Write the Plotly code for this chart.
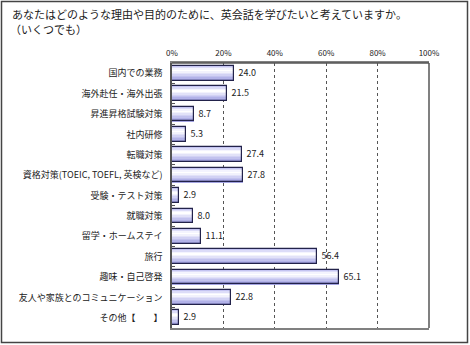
import plotly.graph_objects as go

categories = [
    "国内での業務",
    "海外赴任・海外出張",
    "昇進昇格試験対策",
    "社内研修",
    "転職対策",
    "資格対策(TOEIC, TOEFL, 英検など)",
    "受験・テスト対策",
    "就職対策",
    "留学・ホームステイ",
    "旅行",
    "趣味・自己啓発",
    "友人や家族とのコミュニケーション",
    "その他【　　】",
]
values = [24.0, 21.5, 8.7, 5.3, 27.4, 27.8, 2.9, 8.0, 11.1, 56.4, 65.1, 22.8, 2.9]
tick_vals = [0, 20, 40, 60, 80, 100]
tick_text = ["0%", "20%", "40%", "60%", "80%", "100%"]

title_lines = ["あなたはどのような理由や目的のために、英会話を学びたいと考えていますか。",
               "（いくつでも）"]

FONT = "Noto Sans CJK JP"
W, H = 470, 345
ML, MR, MT, MB = 172, 41, 63, 17

fig = go.Figure()

# gradient stripes (top -> bottom of each bar)
grad = ["#c4c4f2", "#dcdcf8", "#f4f4fe", "#ffffff", "#f2f2fc", "#e2e2f8",
        "#d2d2f4", "#c2c2ee", "#b2b2e8", "#a4a4e2"]
bw = 0.72
n = len(grad)
sw = bw / n
for i, c in enumerate(grad):
    fig.add_trace(go.Bar(
        x=values, y=categories, orientation="h",
        width=sw * 1.15, offset=-bw / 2 + i * sw,
        marker=dict(color=c, line=dict(width=0)),
        hoverinfo="skip", showlegend=False,
    ))

fig.add_trace(go.Bar(
    x=values, y=categories, orientation="h",
    width=bw, offset=-bw / 2,
    marker=dict(color="rgba(0,0,0,0)", line=dict(color="#22224a", width=1.2)),
    text=[f" {v:.1f}" for v in values], textposition="outside",
    textfont=dict(family=FONT, size=9, color="#222"),
    cliponaxis=False, showlegend=False,
))

pw = W - ML - MR
ph = H - MT - MB
def px(x):
    return (x - ML) / pw
def py(y):
    return 1 - (y - MT) / ph

annotations = [
    dict(text=title_lines[0], xref="paper", yref="paper", x=px(10), y=py(14),
         xanchor="left", yanchor="middle", showarrow=False,
         font=dict(family=FONT, size=11, color="#222")),
    dict(text=title_lines[1], xref="paper", yref="paper", x=px(8), y=py(29),
         xanchor="left", yanchor="middle", showarrow=False,
         font=dict(family=FONT, size=11, color="#222")),
]

fig.update_layout(
    width=W, height=H,
    margin=dict(l=ML, r=MR, t=MT, b=MB, pad=0),
    paper_bgcolor="white", plot_bgcolor="white",
    barmode="overlay", bargap=0,
    font=dict(family=FONT, size=9, color="#222"),
    annotations=annotations,
    xaxis=dict(range=[0, 100], side="top", tickvals=tick_vals, ticktext=tick_text,
               showgrid=True, gridcolor="#555", griddash="dot", gridwidth=1,
               showline=True, linecolor="#808080", linewidth=2, mirror=True,
               zeroline=False, ticks="", tickfont=dict(size=8, color="#222"),
               ticklabelstandoff=2),
    yaxis=dict(categoryorder="array", categoryarray=categories, autorange="reversed",
               showline=True, linecolor="#555", linewidth=1.5, mirror=False,
               ticks="inside", ticklen=3, tickcolor="#555", tickson="boundaries",
               showgrid=False, tickfont=dict(size=9, color="#222"), ticklabelstandoff=6),
    shapes=[
        dict(type="line", xref="paper", yref="paper", x0=1, x1=1, y0=0, y1=1,
             line=dict(color="#808080", width=2)),
        dict(type="line", xref="paper", yref="paper", x0=0, x1=1, y0=1, y1=1,
             line=dict(color="#555", width=1.5)),
        dict(type="rect", xref="paper", yref="paper",
             x0=px(1.5), x1=px(W - 2.5), y0=py(H - 2.5), y1=py(1.5),
             line=dict(color="#444", width=1.5), layer="above"),
    ],
)

fig.write_html("out.html")
